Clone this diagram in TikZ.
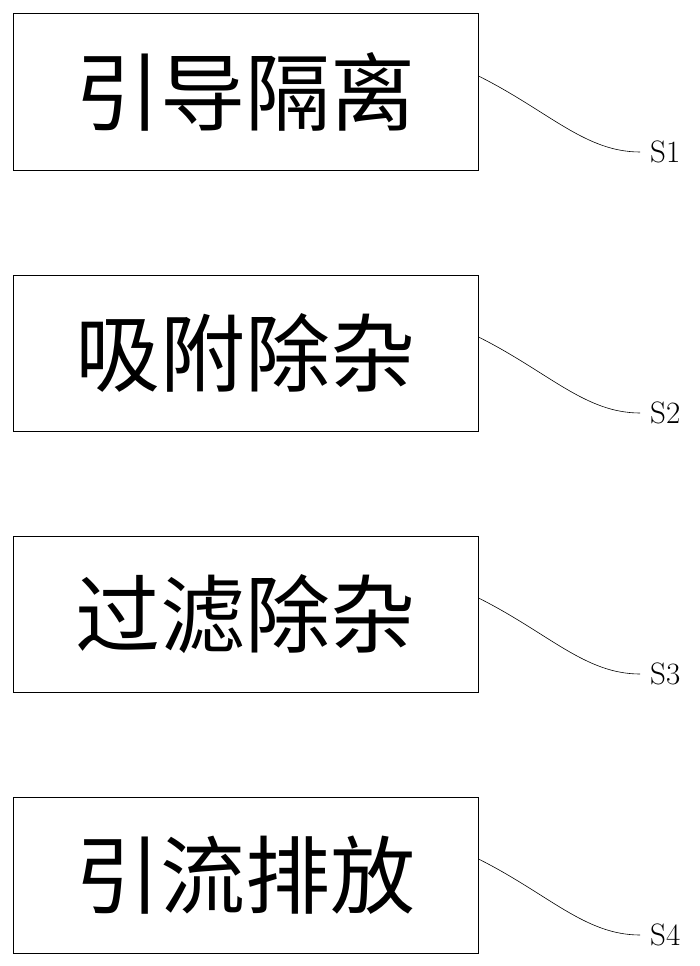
\documentclass[tikz,border=0pt]{standalone}
\usepackage{fontspec}
\newfontfamily\cjk{Noto Sans CJK SC}

\tikzset{
  stepbox/.style={draw, line width=1pt, minimum width=465pt, minimum height=156pt,
    inner sep=0pt, font=\cjk\fontsize{85}{85}\selectfont},
  tag/.style={anchor=west, inner sep=10pt, font=\fontsize{31}{31}\selectfont},
  leader/.style={line width=0.6pt}
}

\begin{document}
\begin{tikzpicture}[x=1pt, y=-1pt]
    \useasboundingbox (0,0) rectangle (699,966);

    \foreach \t [count=\i] in {引导隔离,吸附除杂,过滤除杂,引流排放}
      \node [stepbox] (step-\i) at (245.5,92+261*\i-261) {\t};

    \foreach \i in {1,...,4}
      \node [tag] (tag-\i) at (640,152+261*\i-261) {S\i};

    \foreach \i in {1,...,4}
      \draw [leader] ([yshift=16pt]step-\i.east)
        .. controls +(70,35) and +(-55,0) .. (tag-\i.west);

\end{tikzpicture}
\end{document}
